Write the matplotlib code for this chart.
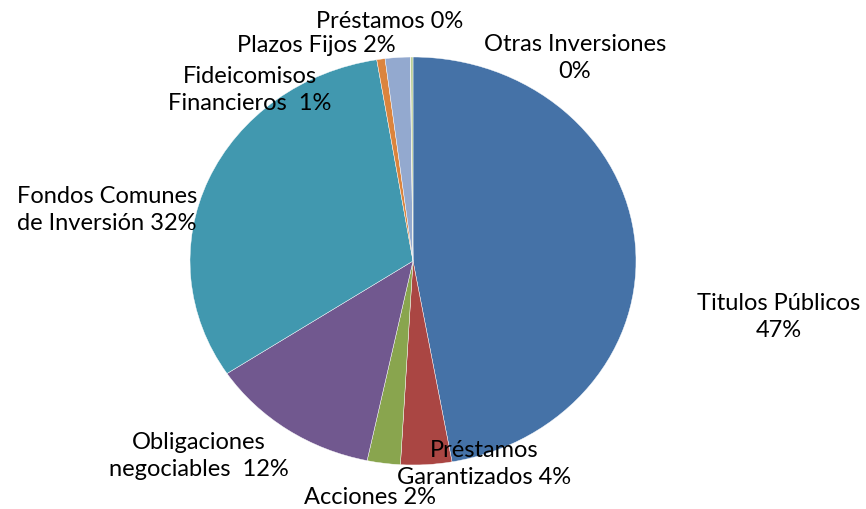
import matplotlib.pyplot as plt

labels = ["Titulos Públicos\n47%", "Préstamos\nGarantizados 4%", "Acciones 2%",
          "Obligaciones\nnegociables  12%", "Fondos Comunes\nde Inversión 32%",
          "Fideicomisos\nFinancieros  1%", "Plazos Fijos 2%", "Préstamos 0%",
          "Otras Inversiones\n0%"]
values = [47.2, 3.7, 2.4, 12.4, 31.7, 0.6, 1.8, 0.03, 0.17]
colors = ["#4572A7", "#AA4643", "#89A54E", "#71588F", "#4198AF",
          "#DB843D", "#93A9CF", "#D19392", "#B9CD96"]
# label block centres in pixels (x, y from top), alignment
label_pos = [(779, 317, "center"), (484, 464, "center"), (370, 498, "center"),
             (199, 456, "center"), (17, 210, "left"), (250, 90, "center"),
             (316, 45, "center"), (390, 22, "center"), (575, 58, "center")]

W, H = 866, 509
cx, cy, rx, ry = 413, 261, 223, 204

fig = plt.figure(figsize=(W / 100, H / 100), dpi=100)
ax = fig.add_axes([0, 0, 1, 1])
ax.pie(values, colors=colors, startangle=90, counterclock=False,
       wedgeprops=dict(edgecolor="white", linewidth=0.3))
ax.set_aspect("auto")
ax.set_xlim(-cx / rx, (W - cx) / rx)
ax.set_ylim(-(H - cy) / ry, cy / ry)
ax.axis("off")

for lab, (x, y, ha) in zip(labels, label_pos):
    fig.text(x / W, 1 - y / H, lab, ha=ha, va="center", fontsize=17,
             family="Lato", color="black", linespacing=1.38,
             multialignment=ha)

fig.savefig("out.png", dpi=100)
